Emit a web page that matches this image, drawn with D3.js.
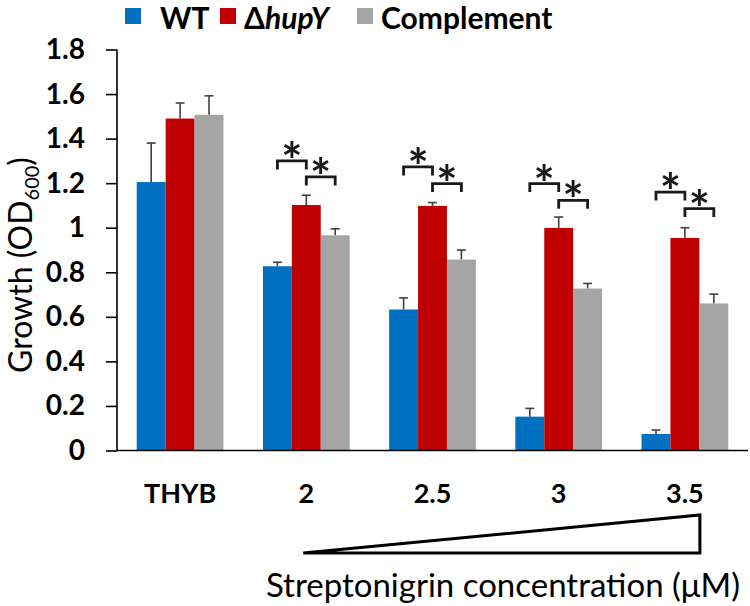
<!DOCTYPE html>
<html><head><meta charset="utf-8">
<script src="https://cdn.jsdelivr.net/npm/d3@7"></script>
<style>body{margin:0;background:#fff}svg{display:block}</style>
</head><body><svg id="c" width="750" height="606"></svg>
<script>
const categories = ["THYB", "2", "2.5", "3", "3.5"];
const seriesNames = ["WT", "ΔhupY", "Complement"];
const seriesColors = ["#0070C0", "#C00000", "#A5A5A5"];
const wt = [1.205, 0.827, 0.633, 0.152, 0.074];
const wtErr = [0.175, 0.018, 0.052, 0.037, 0.018];
const hupY = [1.49, 1.102, 1.098, 0.999, 0.954];
const hupYErr = [0.07, 0.044, 0.015, 0.049, 0.046];
const comp = [1.507, 0.966, 0.857, 0.727, 0.66];
const compErr = [0.085, 0.029, 0.043, 0.023, 0.042];
const sigWtVsHupY = [null, 1.30, 1.273, 1.198, 1.16];
const sigHupYVsComp = [null, 1.228, 1.198, 1.123, 1.086];
const yTicks = [0, 0.2, 0.4, 0.6, 0.8, 1, 1.2, 1.4, 1.6, 1.8];

const values = [wt, hupY, comp];
const errs = [wtErr, hupYErr, compErr];

const svg = d3.select("#c");
const FONT = "Lato, 'Open Sans', sans-serif";

const x = d3.scaleBand().domain(categories).range([117, 748]).paddingInner(0.313).paddingOuter(0.1565);
const xs = d3.scaleBand().domain(seriesNames).range([0, x.bandwidth()]);
const y = d3.scaleLinear().domain([0, 1.8]).range([450.5, 49.5]);

const rows = [];
categories.forEach((c, i) => seriesNames.forEach((s, j) => rows.push({c, s, j, v: values[j][i], e: errs[j][i]})));

// error bars
const eb = svg.append("g").attr("stroke", "#404040").attr("stroke-width", 1.6);
rows.forEach(d => {
  const cx = x(d.c) + xs(d.s) + xs.bandwidth() / 2;
  eb.append("line").attr("x1", cx).attr("x2", cx).attr("y1", y(d.v)).attr("y2", y(d.v + d.e));
  eb.append("line").attr("x1", cx - 4.5).attr("x2", cx + 4.5).attr("y1", y(d.v + d.e)).attr("y2", y(d.v + d.e));
});

svg.append("g").selectAll("rect").data(rows).join("rect")
  .attr("x", d => x(d.c) + xs(d.s))
  .attr("y", d => y(d.v))
  .attr("width", xs.bandwidth())
  .attr("height", d => y(0) - y(d.v))
  .attr("fill", d => seriesColors[d.j]);

// y axis
const ya = svg.append("g").attr("transform", "translate(117,0)")
  .call(d3.axisLeft(y).tickValues(yTicks).tickSize(11).tickPadding(21).tickFormat(d => String(d)));
ya.select(".domain").attr("stroke", "#000").attr("stroke-width", 1.6).attr("d", `M0,${y(1.8)}V${y(0)}`);
ya.selectAll(".tick line").attr("stroke", "#000").attr("stroke-width", 1.6);
ya.selectAll(".tick text").attr("font-family", FONT).attr("font-weight", 700).attr("font-size", 28).attr("fill", "#000");

// x axis
svg.append("line").attr("x1", 117).attr("x2", 748).attr("y1", y(0)).attr("y2", y(0))
  .attr("stroke", "#000").attr("stroke-width", 1.6);
svg.append("g").selectAll("text").data(categories).join("text")
  .attr("x", d => x(d) + x.bandwidth() / 2)
  .attr("y", 503)
  .attr("text-anchor", "middle")
  .attr("font-family", FONT).attr("font-weight", 700).attr("font-size", 27)
  .text(d => d);

// significance brackets
const br = svg.append("g");
function bracket(c, s1, s2, level) {
  const x1 = x(c) + xs(s1) + xs.bandwidth() / 2;
  const x2 = x(c) + xs(s2) + xs.bandwidth() / 2;
  const yt = y(level);
  br.append("path").attr("d", `M${x1},${yt + 8.5}V${yt}H${x2}V${yt + 8.5}`)
    .attr("fill", "none").attr("stroke", "#1a1a1a").attr("stroke-width", 2.8);
  br.append("text").attr("x", (x1 + x2) / 2).attr("y", yt + 18)
    .attr("text-anchor", "middle").attr("font-family", FONT).attr("font-weight", 700)
    .attr("font-size", 50).attr("fill", "#1a1a1a").text("*");
}
categories.forEach((c, i) => {
  if (sigWtVsHupY[i] != null) bracket(c, "WT", "ΔhupY", sigWtVsHupY[i]);
  if (sigHupYVsComp[i] != null) bracket(c, "ΔhupY", "Complement", sigHupYVsComp[i]);
});

// y title
const yt = svg.append("text").attr("transform", "translate(32,265) rotate(-90)")
  .attr("text-anchor", "middle").attr("font-family", FONT).attr("font-size", 32).attr("fill", "#000");
yt.append("tspan").text("Growth (OD");
yt.append("tspan").attr("font-size", 20).attr("dy", 7).text("600");
yt.append("tspan").attr("dy", -7).text(")");

// concentration triangle
const tL = x("2") + x.bandwidth() / 2 - 3;
const tR = x("3.5") + x.bandwidth() / 2 + 15;
svg.append("path").attr("d", `M${tL},553L${tR},515L${tR},553Z`)
  .attr("fill", "none").attr("stroke", "#000").attr("stroke-width", 3).attr("stroke-linejoin", "miter");

// x title
svg.append("text").attr("x", 740).attr("y", 597).attr("text-anchor", "end")
  .attr("font-family", FONT).attr("font-size", 33).attr("fill", "#000")
  .text("Streptonigrin concentration (μM)");

// legend
const legX = [125, 220, 357];
const legTextX = [160, 244, 381];
const lg = svg.append("g");
seriesNames.forEach((s, j) => {
  lg.append("rect").attr("x", legX[j]).attr("y", 8).attr("width", 16).attr("height", 16).attr("fill", seriesColors[j]);
  const t = lg.append("text").attr("x", legTextX[j]).attr("y", 29)
    .attr("font-family", FONT).attr("font-weight", 700).attr("font-size", 30).attr("fill", "#000");
  if (s === "ΔhupY") { t.append("tspan").text("Δ"); t.append("tspan").attr("font-style", "italic").text("hupY"); }
  else t.text(s);
});
</script></body></html>
